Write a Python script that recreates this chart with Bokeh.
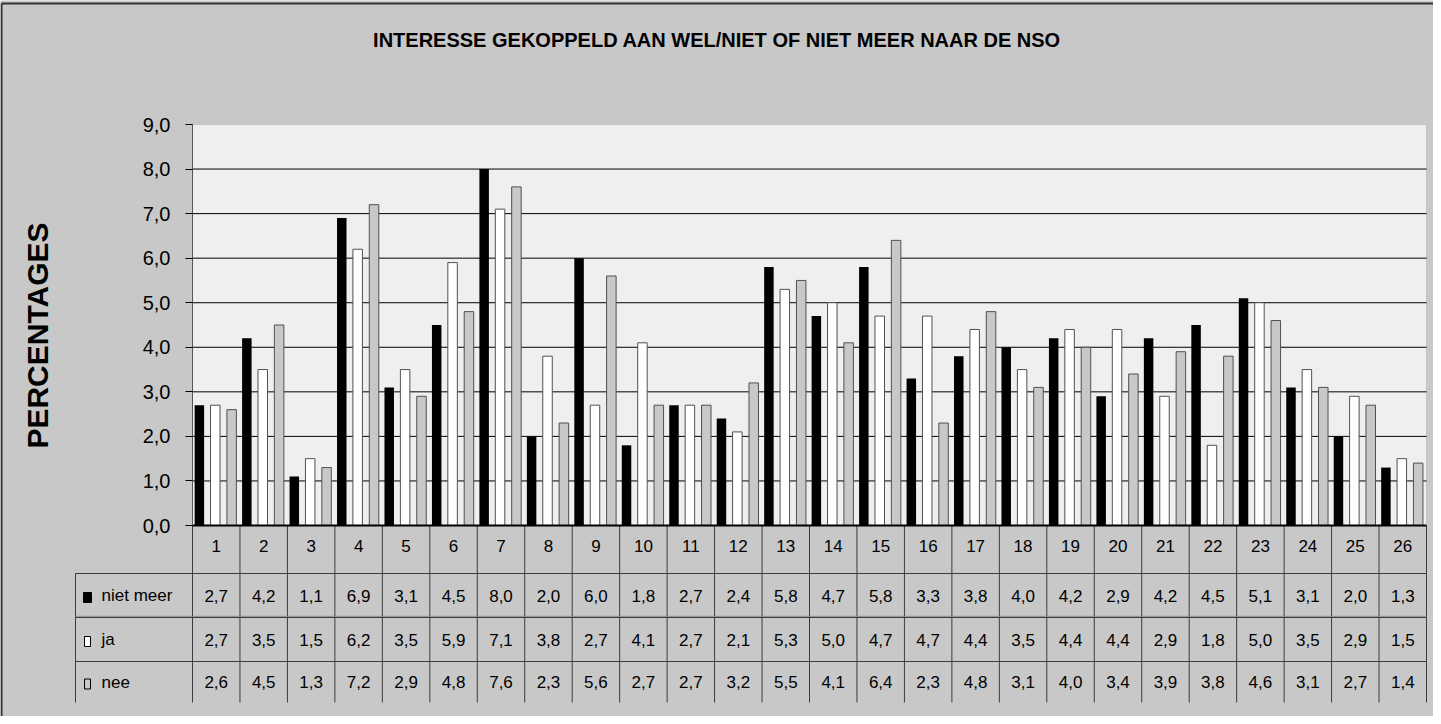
from math import pi

from bokeh.plotting import figure
from bokeh.models import (Range1d, LinearAxis, FixedTicker, CustomJSTickFormatter,
                          ColumnDataSource, BoxAnnotation)
from bokeh.transform import dodge
from bokeh.core.properties import value
from bokeh.embed import file_html
from bokeh.resources import INLINE

# ---------------- data ----------------
title_text = "INTERESSE GEKOPPELD AAN WEL/NIET OF NIET MEER NAAR DE NSO"
y_label = "PERCENTAGES"
categories = [str(i) for i in range(1, 27)]
series_names = ["niet meer", "ja", "nee"]
niet_meer = [2.7, 4.2, 1.1, 6.9, 3.1, 4.5, 8.0, 2.0, 6.0, 1.8, 2.7, 2.4, 5.8,
             4.7, 5.8, 3.3, 3.8, 4.0, 4.2, 2.9, 4.2, 4.5, 5.1, 3.1, 2.0, 1.3]
ja = [2.7, 3.5, 1.5, 6.2, 3.5, 5.9, 7.1, 3.8, 2.7, 4.1, 2.7, 2.1, 5.3,
      5.0, 4.7, 4.7, 4.4, 3.5, 4.4, 4.4, 2.9, 1.8, 5.0, 3.5, 2.9, 1.5]
nee = [2.6, 4.5, 1.3, 7.2, 2.9, 4.8, 7.6, 2.3, 5.6, 2.7, 2.7, 3.2, 5.5,
       4.1, 6.4, 2.3, 4.8, 3.1, 4.0, 3.4, 3.9, 3.8, 4.6, 3.1, 2.7, 1.4]
y_ticks = [0, 1, 2, 3, 4, 5, 6, 7, 8, 9]

# ---------------- layout (page pixels) ----------------
W, H = 1433, 716
PAGE_X0, PAGE_Y0 = 8, 8
PLOT_L, PLOT_R = 200, 1434
PLOT_BOTTOM, PLOT_TOP = 533, 132
N = len(categories)
YMAX = y_ticks[-1]
UX = (PLOT_R - PLOT_L) / N
UY = (PLOT_BOTTOM - PLOT_TOP) / YMAX


def dx(px):
    return (px - PLOT_L) / UX


def dy(py):
    return (PLOT_BOTTOM - py) / UY


ROW_EDGES = [533, 581, 625, 669, 710]      # table row boundaries (page px)
TABLE_LEFT = 83

FONT = "Liberation Sans"
BAR_COLORS = ["#000000", "#ffffff", "#c8c8c8"]
BAR_LINES = [None, "#505050", "#505050"]
OFFSETS = [-0.355, -0.02, 0.325]
BAR_W = 0.2

p = figure(width=W, height=H,
           x_range=Range1d(dx(PAGE_X0), dx(PAGE_X0 + W)),
           y_range=Range1d(dy(PAGE_Y0 + H), dy(PAGE_Y0)),
           output_backend="svg", toolbar_location=None,
           x_axis_location=None, y_axis_location=None,
           min_border=0, min_border_left=0, min_border_right=0,
           min_border_top=0, min_border_bottom=0,
           background_fill_color="#c8c8c8", border_fill_color="#c8c8c8",
           outline_line_color=None)
p.grid.visible = False

# plot area background
p.add_layout(BoxAnnotation(left=0, right=N, bottom=0, top=YMAX,
                           fill_color="#efefef", fill_alpha=1.0,
                           line_color="#8a8a8a", line_width=1, level="underlay"))

# gridlines (behind bars)
grid_y = y_ticks[1:-1]
p.segment(x0=[0] * len(grid_y), x1=[N] * len(grid_y), y0=grid_y, y1=grid_y,
          line_color="#000000", line_width=1)

# bars
src = ColumnDataSource(dict(x=[i + 0.5 for i in range(N)],
                            s0=niet_meer, s1=ja, s2=nee))
for k, col in enumerate(["s0", "s1", "s2"]):
    p.vbar(x=dodge("x", OFFSETS[k]), top=col, bottom=0, width=BAR_W, source=src,
           fill_color=BAR_COLORS[k], line_color=BAR_LINES[k], line_width=1)

# axes
yaxis = LinearAxis(fixed_location=0, bounds=(0, YMAX),
                   ticker=FixedTicker(ticks=y_ticks),
                   formatter=CustomJSTickFormatter(code="return tick.toFixed(1).replace('.', ',');"),
                   axis_line_color="#555555", axis_line_width=1,
                   major_tick_line_color="#000000", major_tick_out=7, major_tick_in=0,
                   minor_tick_line_color=None, major_label_standoff=15,
                   major_label_text_font=FONT, major_label_text_font_size="20px",
                   major_label_text_color="#000000")
p.add_layout(yaxis, "left")

xaxis = LinearAxis(fixed_location=0, bounds=(0, N),
                   ticker=FixedTicker(ticks=[i + 0.5 for i in range(N)]),
                   formatter=CustomJSTickFormatter(args=dict(labels=categories),
                                                   code="return labels[Math.floor(tick)];"),
                   axis_line_color="#000000", axis_line_width=2,
                   major_tick_line_color=None, major_tick_out=0, major_tick_in=0,
                   minor_tick_line_color=None, major_label_standoff=14,
                   major_label_text_font=FONT, major_label_text_font_size="17px",
                   major_label_text_color="#000000")
p.add_layout(xaxis, "below")

# data table lines
LINE_C = "#3c3c3c"
ry = [dy(v) for v in ROW_EDGES]
p.segment(x0=list(range(N + 1)), x1=list(range(N + 1)),
          y0=[0] * (N + 1), y1=[ry[-1]] * (N + 1), line_color=LINE_C, line_width=1)
p.segment(x0=[dx(TABLE_LEFT)] * 2, x1=[dx(TABLE_LEFT), dx(PLOT_L)],
          y0=[ry[1], ry[1]], y1=[ry[-1], ry[1]], line_color=LINE_C, line_width=1)
p.segment(x0=[dx(TABLE_LEFT)] * 3, x1=[N] * 3,
          y0=ry[1:], y1=ry[1:], line_color=LINE_C, line_width=1)
p.segment(x0=[dx(TABLE_LEFT)], x1=[N], y0=[ry[2] + 1.2 / UY], y1=[ry[2] + 1.2 / UY],
          line_color="#8a8a8a", line_width=1)

# table values
cell_x, cell_y, cell_t = [], [], []
for r, vals in enumerate([niet_meer, ja, nee]):
    yc = (ry[r + 1] + ry[r + 2]) / 2
    for i, v in enumerate(vals):
        cell_x.append(i + 0.5)
        cell_y.append(yc)
        cell_t.append(f"{v:.1f}".replace(".", ","))
p.text(x=cell_x, y=cell_y, text=cell_t, text_align="center", text_baseline="middle",
       text_font=value(FONT), text_font_size="17px", text_color="#000000")

# table legend column
row_c = [(ry[r + 1] + ry[r + 2]) / 2 for r in range(3)]
p.text(x=[dx(109)] * 3, y=row_c, text=series_names, text_align="left",
       text_baseline="middle", text_font=value(FONT), text_font_size="17px",
       text_color="#000000")
p.rect(x=[dx(95)] * 3, y=[c - 2 / UY for c in row_c],
       width=[8 / UX, 6 / UX, 6 / UX], height=10 / UY,
       fill_color=BAR_COLORS, line_color=["#000000", "#000000", "#000000"], line_width=1)

# title and y label
p.text(x=[(dx(PAGE_X0) + dx(PAGE_X0 + W)) / 2], y=[dy(47)], text=[title_text],
       text_align="center", text_baseline="middle",
       text_font=value(FONT),
       text_font_size="20px", text_font_style="bold", text_color="#000000")
p.text(x=[dx(45)], y=[dy(343)], text=[y_label], angle=pi / 2,
       text_align="center", text_baseline="middle", text_font=value(FONT),
       text_font_size="30px", text_font_style="bold", text_color="#000000")

# outer frame (left and top edges visible in the reference)
p.segment(x0=[dx(9), dx(9)], x1=[dx(9), dx(PAGE_X0 + W)],
          y0=[dy(11), dy(11)], y1=[dy(PAGE_Y0 + H), dy(11)],
          line_color="#333333", line_width=2)

open("out.html", "w").write(file_html(p, INLINE))
